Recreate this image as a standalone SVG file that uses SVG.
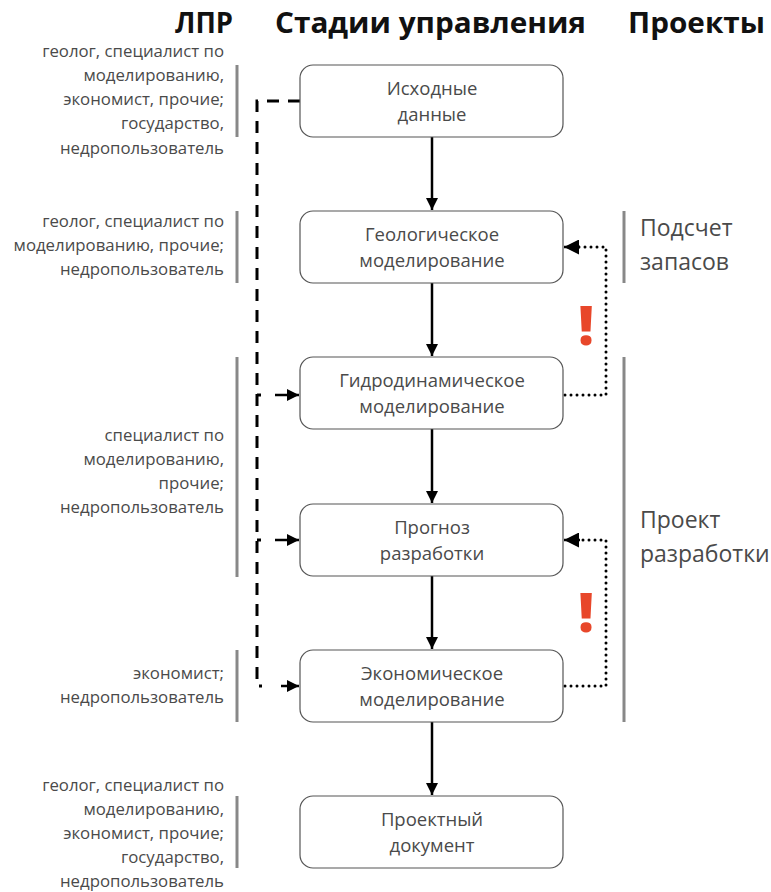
<svg xmlns="http://www.w3.org/2000/svg" width="771" height="892" viewBox="0 0 771 892">
<defs>
<marker id="ah" viewBox="0 0 10 10" refX="10" refY="5" markerWidth="5" markerHeight="5" orient="auto" markerUnits="strokeWidth"><path d="M0,0 L10,5 L0,10 z" fill="#000"/></marker>
<marker id="ahs" viewBox="0 0 10 10" refX="10" refY="5" markerWidth="6" markerHeight="6" orient="auto" markerUnits="strokeWidth"><path d="M0,0 L10,5 L0,10 z" fill="#000"/></marker>
<style>
.box rect{fill:#fff;stroke:#555;stroke-width:1.2}
.box text{font-family:"Open Sans","DejaVu Sans",sans-serif;font-size:18.5px;fill:#4a4a4a;text-anchor:middle}
.hdr{font-family:"Open Sans","DejaVu Sans",sans-serif;font-weight:700;font-size:29px;fill:#111}
.who{font-family:"Open Sans","DejaVu Sans",sans-serif;font-size:16.8px;fill:#4a4a4a;text-anchor:end}
.proj{font-family:"Open Sans","DejaVu Sans",sans-serif;font-size:23px;fill:#4a4a4a}
.bar{stroke:#888;stroke-width:3}
.flow{stroke:#000;stroke-width:2.5;fill:none}
.dash{stroke:#000;stroke-width:3;fill:none;stroke-dasharray:12 9}
.dot{stroke:#000;stroke-width:3;fill:none;stroke-dasharray:0 6;stroke-linecap:round}
.excl{font-family:"Open Sans","DejaVu Sans",sans-serif;font-weight:800;font-size:54px;fill:#E8472A;text-anchor:middle}
</style>
</defs>
<rect width="771" height="892" fill="#fff"/>
<g id="headers">
<text class="hdr" x="175" y="33" textLength="58" lengthAdjust="spacingAndGlyphs">ЛПР</text>
<text class="hdr" x="275" y="33" textLength="311" lengthAdjust="spacingAndGlyphs">Стадии управления</text>
<text class="hdr" x="628" y="33" textLength="137" lengthAdjust="spacingAndGlyphs">Проекты</text>
</g>
<g id="bars">
<line class="bar" x1="237" y1="65" x2="237" y2="137"/>
<line class="bar" x1="237" y1="211" x2="237" y2="283"/>
<line class="bar" x1="237" y1="357" x2="237" y2="577"/>
<line class="bar" x1="237" y1="650" x2="237" y2="722"/>
<line class="bar" x1="237" y1="796" x2="237" y2="868"/>
<line class="bar" x1="624" y1="211" x2="624" y2="283"/>
<line class="bar" x1="624" y1="357" x2="624" y2="722"/>
</g>
<g id="who">
<text class="who" x="224" y="57">геолог, специалист по</text>
<text class="who" x="224" y="81">моделированию,</text>
<text class="who" x="224" y="105">экономист, прочие;</text>
<text class="who" x="224" y="129">государство,</text>
<text class="who" x="224" y="154">недропользователь</text>
<text class="who" x="224" y="227">геолог, специалист по</text>
<text class="who" x="224" y="251">моделированию, прочие;</text>
<text class="who" x="224" y="275">недропользователь</text>
<text class="who" x="224" y="441">специалист по</text>
<text class="who" x="224" y="465">моделированию,</text>
<text class="who" x="224" y="489">прочие; </text>
<text class="who" x="224" y="513">недропользователь</text>
<text class="who" x="224" y="679">экономист;</text>
<text class="who" x="224" y="703">недропользователь</text>
<text class="who" x="224" y="791">геолог, специалист по</text>
<text class="who" x="224" y="815">моделированию,</text>
<text class="who" x="224" y="839">экономист, прочие;</text>
<text class="who" x="224" y="863">государство,</text>
<text class="who" x="224" y="887">недропользователь</text>
</g>
<g id="projects">
<text class="proj" x="640" y="236">Подсчет</text>
<text class="proj" x="640" y="270">запасов</text>
<text class="proj" x="640" y="528">Проект</text>
<text class="proj" x="640" y="562">разработки</text>
</g>
<g id="connectors">
<line class="flow" x1="432" y1="137" x2="432" y2="210" marker-end="url(#ah)"/>
<line class="flow" x1="432" y1="283" x2="432" y2="356" marker-end="url(#ah)"/>
<line class="flow" x1="432" y1="429" x2="432" y2="503" marker-end="url(#ah)"/>
<line class="flow" x1="432" y1="576" x2="432" y2="649" marker-end="url(#ah)"/>
<line class="flow" x1="432" y1="722" x2="432" y2="795" marker-end="url(#ah)"/>
<path class="dash" d="M300,101 H257 V686 H262"/>
<line x1="257" y1="395" x2="261" y2="395" stroke="#000" stroke-width="3"/>
<line x1="257" y1="540" x2="261" y2="540" stroke="#000" stroke-width="3"/>
<line class="flow" x1="275" y1="395" x2="299" y2="395" stroke-width="3" marker-end="url(#ah)"/>
<line class="flow" x1="275" y1="540" x2="299" y2="540" stroke-width="3" marker-end="url(#ah)"/>
<line class="flow" x1="281" y1="686" x2="299" y2="686" stroke-width="3" marker-end="url(#ah)"/>
<path class="dot" d="M565,395 H606 V247 H578"/>
<path class="flow" d="M580,247 H564" marker-end="url(#ahs)" stroke-width="2"/>
<path class="dot" d="M565,686 H606 V540 H578"/>
<path class="flow" d="M580,540 H564" marker-end="url(#ahs)" stroke-width="2"/>
</g>
<g id="n1" class="box"><rect x="300" y="65" width="263" height="72" rx="13"/><text x="432" y="95">Исходные</text><text x="432" y="121">данные</text></g>
<g id="n2" class="box"><rect x="300" y="211" width="263" height="72" rx="13"/><text x="432" y="241">Геологическое</text><text x="432" y="267">моделирование</text></g>
<g id="n3" class="box"><rect x="300" y="357" width="263" height="72" rx="13"/><text x="432" y="387">Гидродинамическое</text><text x="432" y="413">моделирование</text></g>
<g id="n4" class="box"><rect x="300" y="504" width="263" height="72" rx="13"/><text x="432" y="534">Прогноз</text><text x="432" y="560">разработки</text></g>
<g id="n5" class="box"><rect x="300" y="650" width="263" height="72" rx="13"/><text x="432" y="680">Экономическое</text><text x="432" y="706">моделирование</text></g>
<g id="n6" class="box"><rect x="300" y="796" width="263" height="72" rx="13"/><text x="432" y="826">Проектный</text><text x="432" y="852">документ</text></g>
<g id="marks">
<text class="excl" x="586" y="345">!</text>
<text class="excl" x="586" y="632">!</text>
</g>
</svg>
